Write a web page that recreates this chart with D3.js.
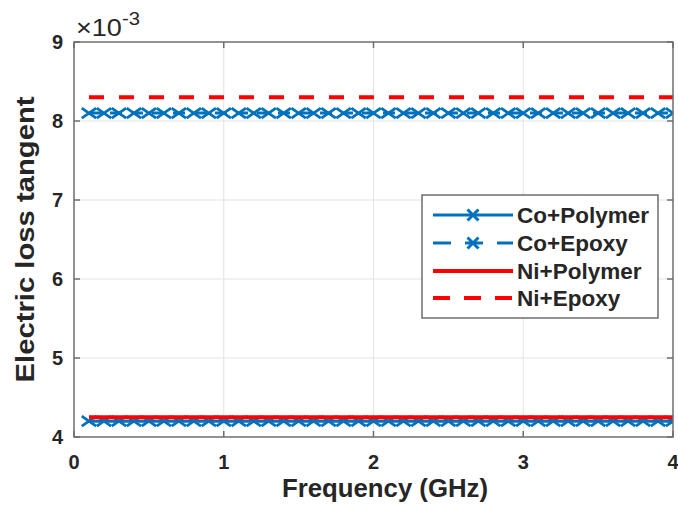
<!DOCTYPE html>
<html>
<head>
<meta charset="utf-8">
<script src="https://cdn.jsdelivr.net/npm/d3@7"></script>
<style>
  html, body { margin: 0; padding: 0; background: #fff; }
  svg { display: block; font-family: "Liberation Sans", Arial, Helvetica, sans-serif; }
</style>
</head>
<body>
<svg id="chart" width="678" height="514"></svg>
<script>
// Frequency sweep (GHz)
const frequency = [0.1,0.2,0.3,0.4,0.5,0.6,0.7,0.8,0.9,1.0,
                   1.1,1.2,1.3,1.4,1.5,1.6,1.7,1.8,1.9,2.0,
                   2.1,2.2,2.3,2.4,2.5,2.6,2.7,2.8,2.9,3.0,
                   3.1,3.2,3.3,3.4,3.5,3.6,3.7,3.8,3.9,4.0];

// Electric loss tangent (x 10^-3)
const coPolymer = [4.20,4.20,4.20,4.20,4.20,4.20,4.20,4.20,4.20,4.20,
                   4.20,4.20,4.20,4.20,4.20,4.20,4.20,4.20,4.20,4.20,
                   4.20,4.20,4.20,4.20,4.20,4.20,4.20,4.20,4.20,4.20,
                   4.20,4.20,4.20,4.20,4.20,4.20,4.20,4.20,4.20,4.20];
const coEpoxy   = [8.10,8.10,8.10,8.10,8.10,8.10,8.10,8.10,8.10,8.10,
                   8.10,8.10,8.10,8.10,8.10,8.10,8.10,8.10,8.10,8.10,
                   8.10,8.10,8.10,8.10,8.10,8.10,8.10,8.10,8.10,8.10,
                   8.10,8.10,8.10,8.10,8.10,8.10,8.10,8.10,8.10,8.10];
const niPolymer = [4.25,4.25,4.25,4.25,4.25,4.25,4.25,4.25,4.25,4.25,
                   4.25,4.25,4.25,4.25,4.25,4.25,4.25,4.25,4.25,4.25,
                   4.25,4.25,4.25,4.25,4.25,4.25,4.25,4.25,4.25,4.25,
                   4.25,4.25,4.25,4.25,4.25,4.25,4.25,4.25,4.25,4.25];
const niEpoxy   = [8.30,8.30,8.30,8.30,8.30,8.30,8.30,8.30,8.30,8.30,
                   8.30,8.30,8.30,8.30,8.30,8.30,8.30,8.30,8.30,8.30,
                   8.30,8.30,8.30,8.30,8.30,8.30,8.30,8.30,8.30,8.30,
                   8.30,8.30,8.30,8.30,8.30,8.30,8.30,8.30,8.30,8.30];

const seriesNames = ["Co+Polymer", "Co+Epoxy", "Ni+Polymer", "Ni+Epoxy"];
const xTicks = [0, 1, 2, 3, 4];
const yTicks = [4, 5, 6, 7, 8, 9];

const BLUE = "#0072BD", RED = "#FF0000";
const series = [
  { name: seriesNames[0], values: coPolymer, color: BLUE, width: 3, dash: null,    marker: true },
  { name: seriesNames[1], values: coEpoxy,   color: BLUE, width: 3, dash: "12,9",  marker: true },
  { name: seriesNames[2], values: niPolymer, color: RED,  width: 4, dash: null,    marker: false },
  { name: seriesNames[3], values: niEpoxy,   color: RED,  width: 4, dash: "15,15", marker: false }
];

const svg = d3.select("#chart");
const plot = { left: 74, right: 673, top: 42, bottom: 437 };

const x = d3.scaleLinear().domain([0, 4]).range([plot.left, plot.right]);
const y = d3.scaleLinear().domain([4, 9]).range([plot.bottom, plot.top]);

const axisColor = "#6e6e6e";
const textColor = "#262626";

// grid
const grid = svg.append("g");
grid.selectAll("line.gx").data(xTicks.slice(1, -1)).join("line")
  .attr("x1", d => x(d)).attr("x2", d => x(d))
  .attr("y1", plot.top).attr("y2", plot.bottom)
  .attr("stroke", "#e3e3e3").attr("stroke-width", 1);
grid.selectAll("line.gy").data(yTicks.slice(1, -1)).join("line")
  .attr("x1", plot.left).attr("x2", plot.right)
  .attr("y1", d => y(d)).attr("y2", d => y(d))
  .attr("stroke", "#e3e3e3").attr("stroke-width", 1);

// data lines
svg.append("clipPath").attr("id", "clip").append("rect")
  .attr("x", plot.left).attr("y", plot.top - 10)
  .attr("width", plot.right - plot.left).attr("height", plot.bottom - plot.top + 20);

const dataG = svg.append("g").attr("clip-path", "url(#clip)");
const line = d3.line().x(d => x(d[0])).y(d => y(d[1]));

function xMarkPath(cx, cy, w, h) {
  return `M${cx - w},${cy - h}L${cx + w},${cy + h}M${cx - w},${cy + h}L${cx + w},${cy - h}`;
}

series.forEach(s => {
  const pts = frequency.map((f, i) => [f, s.values[i]]);
  dataG.append("path").datum(pts)
    .attr("d", line)
    .attr("fill", "none")
    .attr("stroke", s.color)
    .attr("stroke-width", s.width)
    .attr("stroke-dasharray", s.dash);
  if (s.marker) {
    dataG.append("g").selectAll("path").data(pts).join("path")
      .attr("d", d => xMarkPath(x(d[0]), y(d[1]), 7.2, 5))
      .attr("stroke", s.color).attr("stroke-width", 2.8)
      .attr("fill", "none");
  }
});

// axes frame with inward ticks on all sides
const axG = svg.append("g");
const tickLen = 6;
axG.append("rect")
  .attr("x", plot.left).attr("y", plot.top)
  .attr("width", plot.right - plot.left).attr("height", plot.bottom - plot.top)
  .attr("fill", "none").attr("stroke", axisColor).attr("stroke-width", 1.5);

xTicks.forEach(t => {
  axG.append("line").attr("x1", x(t)).attr("x2", x(t))
    .attr("y1", plot.bottom).attr("y2", plot.bottom - tickLen)
    .attr("stroke", axisColor).attr("stroke-width", 1.5);
  axG.append("line").attr("x1", x(t)).attr("x2", x(t))
    .attr("y1", plot.top).attr("y2", plot.top + tickLen)
    .attr("stroke", axisColor).attr("stroke-width", 1.5);
});
yTicks.forEach(t => {
  axG.append("line").attr("x1", plot.left).attr("x2", plot.left + tickLen)
    .attr("y1", y(t)).attr("y2", y(t))
    .attr("stroke", axisColor).attr("stroke-width", 1.5);
  axG.append("line").attr("x1", plot.right).attr("x2", plot.right - tickLen)
    .attr("y1", y(t)).attr("y2", y(t))
    .attr("stroke", axisColor).attr("stroke-width", 1.5);
});

// tick labels
svg.append("g").selectAll("text").data(xTicks).join("text")
  .attr("x", d => x(d)).attr("y", plot.bottom + 32)
  .attr("text-anchor", "middle")
  .attr("font-size", 20).attr("font-weight", "bold").attr("fill", textColor)
  .text(d => d);
svg.append("g").selectAll("text").data(yTicks).join("text")
  .attr("x", plot.left - 11).attr("y", d => y(d) + 7)
  .attr("text-anchor", "end")
  .attr("font-size", 20).attr("font-weight", "bold").attr("fill", textColor)
  .text(d => d);

// exponent label
const expo = svg.append("text").attr("x", 76).attr("y", 36)
  .attr("font-size", 24).attr("fill", textColor)
  .attr("textLength", 64).attr("lengthAdjust", "spacingAndGlyphs");
expo.append("tspan").text("\u00d710");
expo.append("tspan").attr("dy", -11).attr("font-size", 18).text("-3");

// axis titles
svg.append("text")
  .attr("x", 385).attr("y", 497)
  .attr("text-anchor", "middle")
  .attr("font-size", 25).attr("font-weight", "bold").attr("fill", textColor)
  .attr("textLength", 206).attr("lengthAdjust", "spacingAndGlyphs")
  .text("Frequency (GHz)");
svg.append("text")
  .attr("transform", `translate(34, ${(plot.top + plot.bottom) / 2}) rotate(-90)`)
  .attr("text-anchor", "middle")
  .attr("font-size", 25).attr("font-weight", "bold").attr("fill", textColor)
  .attr("textLength", 286).attr("lengthAdjust", "spacingAndGlyphs")
  .text("Electric loss tangent");

// legend
const lg = svg.append("g");
const lgBox = { x: 422, y: 195, w: 236, h: 123 };
lg.append("rect").attr("x", lgBox.x).attr("y", lgBox.y)
  .attr("width", lgBox.w).attr("height", lgBox.h)
  .attr("fill", "#fff").attr("stroke", axisColor).attr("stroke-width", 1.5);
const rowY = [215, 243, 271, 298];
series.forEach((s, i) => {
  const yy = rowY[i];
  lg.append("line").attr("x1", 433).attr("x2", 513)
    .attr("y1", yy).attr("y2", yy)
    .attr("stroke", s.color).attr("stroke-width", s.width)
    .attr("stroke-dasharray", s.dash ? (s.marker ? "18,14" : "17,14") : null);
  if (s.marker) {
    lg.append("path").attr("d", xMarkPath(473, yy, 5.5, 5.5))
      .attr("stroke", s.color).attr("stroke-width", 3).attr("fill", "none");
  }
  lg.append("text").attr("x", 517).attr("y", yy + 8)
    .attr("font-size", 22.5).attr("font-weight", "bold").attr("fill", textColor)
    .text(s.name);
});
</script>
</body>
</html>
